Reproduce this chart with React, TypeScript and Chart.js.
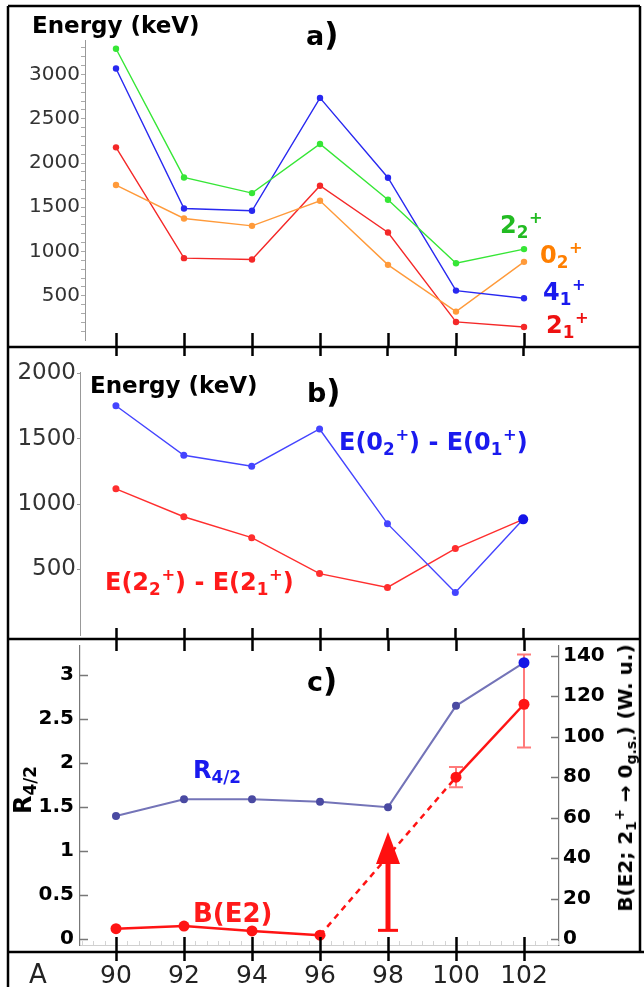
import React, { useEffect, useRef } from 'react';
import { Chart, registerables } from 'chart.js';

Chart.register(...registerables);

// ---------------- data ----------------
const massNumbers = [90, 92, 94, 96, 98, 100, 102];

// panel a) level energies (keV)
const energy21 = [2177, 925, 909, 1743, 1215, 204, 147];
const energy41 = [3068, 1486, 1460, 2736, 1834, 558, 472];
const energy02 = [1751, 1373, 1290, 1573, 849, 321, 883];
const energy22 = [3291, 1837, 1660, 2215, 1585, 868, 1027];

// panel b) energy differences (keV)
const diff0 = [1750, 1372, 1289, 1573, 850, 325, 883];
const diff2 = [1116, 903, 743, 469, 363, 660, 883];

// panel c) R4/2 and B(E2; 2+ -> 0+) (W.u.)
const r42 = [1.4, 1.59, 1.59, 1.56, 1.5, 2.65, 3.14];
const bE2: (number | null)[] = [5.2, 6.5, 4.1, 2.0, null, 80, 116];
const bE2Low: (number | null)[] = [null, null, null, null, null, 75, 94.6];
const bE2High: (number | null)[] = [null, null, null, null, null, 85, 140.6];
const limitMass = 98;
const limitFrom = 4.4;
const limitTo = 53;

// tick labels
const ticksA = [500, 1000, 1500, 2000, 2500, 3000];
const minorStepA = 100;
const ticksB = [500, 1000, 1500, 2000];
const ticksCLeft = [0, 0.5, 1, 1.5, 2, 2.5, 3];
const ticksCRight = [0, 20, 40, 60, 80, 100, 120, 140];

// ---------------- layout ----------------
const FONT = "'DejaVu Sans', sans-serif";
const W = 644;
const X_FIRST_PX = 116;
const PX_PER_A = 34;
const xRange = (left: number, right: number) => ({
  min: massNumbers[0] - (X_FIRST_PX - left) / PX_PER_A,
  max: massNumbers[0] + (right - X_FIRST_PX) / PX_PER_A,
});

const FRAME = { left: 8, right: 640, top: 6, bottom: 987, rightBottom: 952 };
const SEPS = [
  { y: 347, up: 14, down: 9 },
  { y: 639, up: 11, down: 12 },
  { y: 952, up: 15, down: 9 },
];

const pts = (arr: (number | null)[]) => massNumbers.map((m, i) => ({ x: m, y: arr[i] }));

const fixWidth = (w: number) => (s: any) => {
  s.width = w;
  s.paddingTop = 0;
  s.paddingBottom = 0;
};

const framePlugin = (offsetTop: number) => ({
  id: 'frame',
  afterDraw(chart: any) {
    const ctx = chart.ctx;
    const xs = chart.scales.x;
    ctx.save();
    ctx.translate(0, -offsetTop);
    ctx.strokeStyle = '#000';
    ctx.lineWidth = 2.5;
    ctx.beginPath();
    ctx.moveTo(FRAME.left, FRAME.top);
    ctx.lineTo(FRAME.right, FRAME.top);
    ctx.moveTo(FRAME.left, FRAME.top);
    ctx.lineTo(FRAME.left, FRAME.bottom);
    ctx.moveTo(FRAME.right, FRAME.top);
    ctx.lineTo(FRAME.right, FRAME.rightBottom);
    SEPS.forEach((s, i) => {
      ctx.moveTo(FRAME.left, s.y);
      ctx.lineTo(i === SEPS.length - 1 ? W : FRAME.right, s.y);
    });
    ctx.stroke();
    ctx.beginPath();
    SEPS.forEach((s) => {
      massNumbers.forEach((m) => {
        const px = Math.round(xs.getPixelForValue(m)) + 0.5;
        ctx.moveTo(px, s.y - s.up);
        ctx.lineTo(px, s.y + s.down);
      });
    });
    ctx.stroke();
    ctx.restore();
  },
});

const baseOptions = (padding: any) => ({
  responsive: false,
  maintainAspectRatio: false,
  animation: false as const,
  devicePixelRatio: 1,
  events: [] as any[],
  layout: { padding },
  plugins: { legend: { display: false }, tooltip: { enabled: false }, title: { display: false } },
});

const isMajorA = (v: number) => ticksA.some((t) => Math.abs(t - v) < 1e-6);

// ---------------- panel configs ----------------
function configA(top: number): any {
  const line = (data: number[], color: string) => ({
    data: pts(data),
    borderColor: color,
    backgroundColor: color,
    pointBackgroundColor: color,
    pointBorderWidth: 0,
    pointRadius: 3.2,
    borderWidth: 1.4,
  });
  return {
    type: 'line',
    data: {
      datasets: [
        line(energy22, '#36e636'),
        line(energy41, '#2828f0'),
        line(energy02, '#ff9a3a'),
        line(energy21, '#f42828'),
      ],
    },
    options: {
      ...baseOptions({ left: 0, right: W - 640, top: 40, bottom: 348 - 340 }),
      scales: {
        x: { type: 'linear', display: false, ...xRange(85, 640) },
        y: {
          type: 'linear',
          min: 0,
          max: 3390,
          afterFit: fixWidth(85),
          afterBuildTicks: (s: any) => {
            const out: any[] = [];
            for (let v = minorStepA; v <= s.max; v += minorStepA) out.push({ value: v });
            s.ticks = out;
          },
          ticks: {
            autoSkip: false,
            callback: (v: any) => (isMajorA(Number(v)) ? String(Math.round(Number(v))) : ''),
            color: '#333',
            font: { family: FONT, size: 20 },
            padding: 1,
          },
          grid: { drawOnChartArea: false, tickLength: 4, color: '#aaa' },
          border: { color: '#999', width: 1 },
        },
      },
    },
    plugins: [framePlugin(top)],
  };
}

function configB(top: number): any {
  const line = (data: number[], color: string, bigLast: boolean) => ({
    data: pts(data),
    borderColor: color,
    backgroundColor: color,
    pointBackgroundColor: bigLast
      ? (c: any) => (c.dataIndex === massNumbers.length - 1 ? '#1414e8' : color)
      : color,
    pointBorderWidth: 0,
    pointRadius: bigLast ? (c: any) => (c.dataIndex === massNumbers.length - 1 ? 5 : 3.5) : 3.5,
    borderWidth: 1.4,
  });
  return {
    type: 'line',
    data: {
      datasets: [line(diff0, '#4444ff', true), line(diff2, '#ff2e2e', false)],
    },
    options: {
      ...baseOptions({ left: 0, right: W - 640, top: 24, bottom: 4 }),
      scales: {
        x: { type: 'linear', display: false, ...xRange(80, 640) },
        y: {
          type: 'linear',
          min: 0,
          max: 2008,
          afterFit: fixWidth(80),
          afterBuildTicks: (s: any) => { s.ticks = ticksB.map((v) => ({ value: v })); },
          ticks: {
            color: '#333',
            font: { family: FONT, size: 23 },
            padding: 1,
            autoSkip: false,
            callback: (v: any) => String(v),
          },
          grid: { drawOnChartArea: false, tickLength: 3, color: '#999' },
          border: { color: '#999', width: 1 },
        },
      },
    },
    plugins: [framePlugin(top)],
  };
}

const panelCPlugin = {
  id: 'panelC',
  beforeDatasetsDraw(chart: any) {
    const ctx = chart.ctx;
    const xs = chart.scales.x;
    const y2 = chart.scales.y2;
    ctx.save();
    ctx.strokeStyle = '#ff7a7a';
    ctx.lineWidth = 2;
    ctx.beginPath();
    massNumbers.forEach((m, i) => {
      const lo = bE2Low[i];
      const hi = bE2High[i];
      if (lo == null || hi == null) return;
      const px = xs.getPixelForValue(m);
      const pl = y2.getPixelForValue(lo);
      const ph = y2.getPixelForValue(hi);
      ctx.moveTo(px, pl);
      ctx.lineTo(px, ph);
      ctx.moveTo(px - 7, pl);
      ctx.lineTo(px + 7, pl);
      ctx.moveTo(px - 7, ph);
      ctx.lineTo(px + 7, ph);
    });
    ctx.stroke();
    ctx.restore();
  },
  afterDatasetsDraw(chart: any) {
    const ctx = chart.ctx;
    const xs = chart.scales.x;
    const y2 = chart.scales.y2;
    const px = xs.getPixelForValue(limitMass);
    const pFrom = y2.getPixelForValue(limitFrom);
    const pTo = y2.getPixelForValue(limitTo);
    const headLen = 32;
    ctx.save();
    ctx.strokeStyle = '#ff1010';
    ctx.fillStyle = '#ff1010';
    ctx.lineWidth = 5;
    ctx.beginPath();
    ctx.moveTo(px, pFrom);
    ctx.lineTo(px, pTo + headLen - 2);
    ctx.stroke();
    ctx.lineWidth = 3;
    ctx.beginPath();
    ctx.moveTo(px - 10, pFrom);
    ctx.lineTo(px + 10, pFrom);
    ctx.stroke();
    ctx.beginPath();
    ctx.moveTo(px, pTo);
    ctx.lineTo(px - 12, pTo + headLen);
    ctx.lineTo(px + 12, pTo + headLen);
    ctx.closePath();
    ctx.fill();
    ctx.restore();
  },
  afterDraw(chart: any) {
    const ctx = chart.ctx;
    const xs = chart.scales.x;
    const y = chart.scales.y;
    const y2 = chart.scales.y2;
    const area = chart.chartArea;
    ctx.save();
    ctx.strokeStyle = '#777';
    ctx.lineWidth = 1.5;
    ctx.beginPath();
    ticksCLeft.forEach((v) => {
      const py = Math.round(y.getPixelForValue(v)) + 0.5;
      ctx.moveTo(area.left, py);
      ctx.lineTo(area.left + 8, py);
    });
    ticksCRight.forEach((v) => {
      const py = Math.round(y2.getPixelForValue(v)) + 0.5;
      ctx.moveTo(area.right - 8, py);
      ctx.lineTo(area.right, py);
    });
    ctx.stroke();
    ctx.strokeStyle = '#d4d4d4';
    ctx.lineWidth = 1;
    ctx.beginPath();
    for (let k = Math.ceil(xs.min * 3); k <= Math.floor(xs.max * 3); k++) {
      const px = Math.round(xs.getPixelForValue(k / 3)) + 0.5;
      ctx.moveTo(px, area.bottom);
      ctx.lineTo(px, area.bottom - 4);
    }
    ctx.stroke();
    ctx.restore();
  },
};

function configC(top: number): any {
  const lastIdx = massNumbers.length - 1;
  return {
    type: 'line',
    data: {
      datasets: [
        {
          data: pts(r42),
          yAxisID: 'y',
          borderColor: '#7474b8',
          borderWidth: 2,
          pointBackgroundColor: (c: any) => (c.dataIndex === lastIdx ? '#1616e6' : '#4a4aa2'),
          pointBorderWidth: 0,
          pointRadius: (c: any) => (c.dataIndex === lastIdx ? 5.5 : 4),
        },
        {
          data: pts(bE2),
          yAxisID: 'y2',
          spanGaps: true,
          borderColor: '#ff1414',
          borderWidth: 2.5,
          pointBackgroundColor: '#ff1414',
          pointBorderWidth: 0,
          pointRadius: 5.5,
          segment: {
            borderDash: (c: any) => (c.p0.skip || c.p1.skip ? [6, 5] : undefined),
          },
        },
      ],
    },
    options: {
      ...baseOptions({ left: 0, right: 0, top: 3, bottom: 0 }),
      scales: {
        x: {
          type: 'linear',
          position: 'bottom',
          ...xRange(80, 559),
          afterFit: (s: any) => { s.height = 42; },
          afterBuildTicks: (s: any) => { s.ticks = massNumbers.map((v) => ({ value: v })); },
          ticks: {
            color: '#222',
            font: { family: FONT, size: 25 },
            padding: 16,
            maxRotation: 0,
            autoSkip: false,
            callback: (v: any) => String(v),
          },
          grid: { display: false, drawTicks: false },
          border: { display: true, color: '#d0d0d0', width: 1 },
        },
        y: {
          type: 'linear',
          position: 'left',
          min: -0.065,
          max: 3.335,
          afterFit: fixWidth(80),
          afterBuildTicks: (s: any) => { s.ticks = ticksCLeft.map((v) => ({ value: v })); },
          ticks: {
            color: '#000',
            font: { family: FONT, size: 20, weight: 'bold' },
            padding: 6,
            autoSkip: false,
            callback: (v: any) => String(v),
          },
          grid: { display: false, drawTicks: false },
          border: { color: '#777', width: 1.2 },
        },
        y2: {
          type: 'linear',
          position: 'right',
          min: -2.83,
          max: 145.0,
          afterFit: fixWidth(W - 559),
          afterBuildTicks: (s: any) => { s.ticks = ticksCRight.map((v) => ({ value: v })); },
          ticks: {
            color: '#000',
            font: { family: FONT, size: 20, weight: 'bold' },
            padding: 4,
            autoSkip: false,
            callback: (v: any) => String(v),
          },
          grid: { display: false, drawTicks: false },
          border: { color: '#777', width: 1.2 },
        },
      },
    },
    plugins: [panelCPlugin, framePlugin(top)],
  };
}

// ---------------- components ----------------
function Panel({ top, height, config }: { top: number; height: number; config: (t: number) => any }) {
  const ref = useRef<HTMLCanvasElement>(null);
  useEffect(() => {
    const chart = new Chart(ref.current as HTMLCanvasElement, config(top));
    return () => chart.destroy();
  }, []);
  return (
    <canvas
      ref={ref}
      width={W}
      height={height}
      style={{ position: 'absolute', left: 0, top, width: W, height, display: 'block' }}
    />
  );
}

const Sub = ({ children }: any) => (
  <span style={{ fontSize: '0.7em', position: 'relative', top: '0.32em' }}>{children}</span>
);
const Sup = ({ children }: any) => (
  <span style={{ fontSize: '0.68em', position: 'relative', top: '-0.6em', marginLeft: '0.04em' }}>{children}</span>
);

function Txt({ left, base, size, color = '#000', bold = true, children }: any) {
  return (
    <div
      style={{
        position: 'absolute',
        left,
        top: base - 0.846 * size,
        fontFamily: FONT,
        fontSize: size,
        fontWeight: bold ? 700 : 400,
        color,
        lineHeight: 1,
        whiteSpace: 'nowrap',
      }}
    >
      {children}
    </div>
  );
}

function VTxt({ cx, cy, size, color = '#000', bold = true, children }: any) {
  return (
    <div
      style={{
        position: 'absolute',
        left: cx,
        top: cy,
        transform: 'translate(-50%, -50%) rotate(-90deg)',
        fontFamily: FONT,
        fontSize: size,
        fontWeight: bold ? 700 : 400,
        color,
        lineHeight: 1,
        whiteSpace: 'nowrap',
      }}
    >
      {children}
    </div>
  );
}

export default function App() {
  return (
    <div
      style={{
        position: 'fixed',
        left: 0,
        top: 0,
        width: W,
        height: 987,
        background: '#fff',
        overflow: 'hidden',
      }}
    >
      <Panel top={0} height={348} config={configA} />
      <Panel top={348} height={292} config={configB} />
      <Panel top={640} height={347} config={configC} />

      {/* panel a */}
      <Txt left={32} base={33} size={23}>Energy (keV)</Txt>
      <Txt left={306} base={42} size={27}>a<span style={{ fontSize: '1.15em' }}>)</span></Txt>
      <Txt left={500} base={233} size={24} color="#22bb22">2<Sub>2</Sub><Sup>+</Sup></Txt>
      <Txt left={540} base={263} size={24} color="#ff7f00">0<Sub>2</Sub><Sup>+</Sup></Txt>
      <Txt left={543} base={300} size={24} color="#1a1aee">4<Sub>1</Sub><Sup>+</Sup></Txt>
      <Txt left={546} base={333} size={24} color="#ee1111">2<Sub>1</Sub><Sup>+</Sup></Txt>

      {/* panel b */}
      <Txt left={90} base={393} size={23}>Energy (keV)</Txt>
      <Txt left={307} base={399} size={27}>b<span style={{ fontSize: '1.15em' }}>)</span></Txt>
      <Txt left={339} base={450} size={24} color="#1a1aee">
        E(0<Sub>2</Sub><Sup>+</Sup>) - E(0<Sub>1</Sub><Sup>+</Sup>)
      </Txt>
      <Txt left={105} base={590} size={24} color="#ff1a1a">
        E(2<Sub>2</Sub><Sup>+</Sup>) - E(2<Sub>1</Sub><Sup>+</Sup>)
      </Txt>

      {/* panel c */}
      <Txt left={307} base={688} size={27}>c<span style={{ fontSize: '1.15em' }}>)</span></Txt>
      <Txt left={193} base={778} size={24} color="#1a1aee">R<Sub>4/2</Sub></Txt>
      <Txt left={193} base={922} size={26} color="#ff1a1a">B(E2)</Txt>
      <VTxt cx={23} cy={790} size={24}>R<Sub>4/2</Sub></VTxt>
      <VTxt cx={625} cy={778} size={20}>
        B(E2; 2<Sub>1</Sub><Sup>+</Sup> → 0<Sub>g.s.</Sub>) (W. u.)
      </VTxt>

      {/* bottom row */}
      <Txt left={29} base={983} size={26} color="#222" bold={false}>A</Txt>
    </div>
  );
}
